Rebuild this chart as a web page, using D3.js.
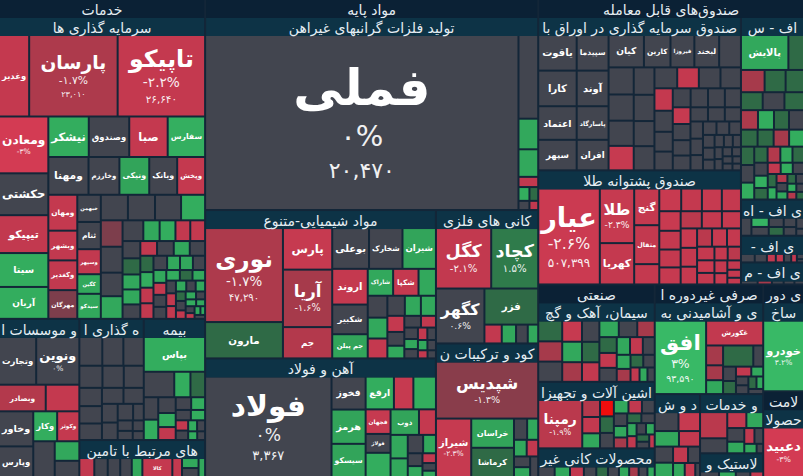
<!DOCTYPE html>
<html>
<head>
<meta charset="utf-8">
<script src="https://cdn.jsdelivr.net/npm/d3@7"></script>
<style>
  html, body { margin: 0; padding: 0; background: #132638; }
  svg { display: block; font-family: "DejaVu Sans", "Noto Sans", sans-serif; }
</style>
</head>
<body>
<div id="chart"></div>
<script>
// rows: [symbol, market value, change %, last price]
const investRows = [
  ["وغدیر", 2400, -2.2], ["پارسان", 7040, -1.7, "23,010"], ["تاپیکو", 6960, -2.2, "26,640"],
  ["ومعادن", 2736, -3], ["حکشتی", 2016, 0], ["تیپیکو", 1824, -2.1], ["سیتا", 1632, 2.5], ["آریان", 1536, 2.5],
  ["نیشکر", 1600, 2.5], ["وصندوق", 1600, 0], ["صبا", 1520, -2.2], ["سفارس", 1480, 2.6],
  ["ومهنا", 1482, 0], ["وخارزم", 1140, 0], ["ونیکی", 1100, 2.3], ["وبانک", 1030, 0], ["وپخش", 1030, -2.2],
  ["ومهان", 1015, -2.2], ["وبشهر", 841, -2.1], ["وکغدیر", 841, -2.1], ["مهرگان", 812, -1.2],
  ["خبهمن", 625, 0], ["ثنام", 625, 0], ["وسپهر", 575, -2.1], ["کگین", 450, 2.4], ["سیدکو", 575, 2.4],
  ["", 676, 0], ["", 676, 0], ["", 650, 0], ["", 600, 2.5], ["", 560, -1.2], ["", 550, 0], ["", 500, 0],
  ["", 480, 2.4], ["", 420, 0], ["", 330, 2.4], ["", 320, 2.5], ["", 300, -2.1], ["", 300, -2.2], ["", 300, 0],
  ["", 280, 1.2], ["", 260, 2.4], ["", 260, 2.4], ["", 250, 0], ["", 240, -2.1], ["", 240, 0], ["", 230, 2.4],
  ["", 220, 0], ["", 210, 1.2], ["", 200, 2.5], ["", 200, -2.1], ["", 200, -2.1], ["", 190, 0], ["", 180, 2.4],
  ["", 180, 2.4], ["", 170, 0], ["", 160, 2.4], ["", 150, -2.2], ["", 150, 0], ["", 150, 0], ["", 140, 2.5],
  ["", 130, 1.2], ["", 130, 2.4], ["", 120, 0], ["", 120, -2.1], ["", 120, -2.1], ["", 110, 2.4], ["", 100, 0],
  ["", 100, 2.4], ["", 90, 1.2], ["", 90, 0], ["", 80, -2.1], ["", 80, 2.4], ["", 70, 0], ["", 70, 2.5],
  ["", 60, 2.4], ["", 60, 0], ["", 50, -2.1], ["", 50, 2.4], ["", 40, 2.4], ["", 40, 0]
];
const bankRows = [
  ["وتجارت", 1740, 0], ["ونوین", 2020, 0], ["وبصادر", 1216, -1.8], ["", 874, -2.2], ["وخاور", 1175, 0],
  ["وپارس", 1025, 0], ["وکار", 700, 2.5], ["وکوثر", 650, -2.2], ["", 750, 0], ["", 470, 2.4], ["", 390, 0]
];
const estaniRows = [
  ["وسفارس", 675, 0], ["", 620, 0], ["", 600, 0], ["", 520, 0], ["", 480, 0], ["", 450, 0], ["", 420, 0],
  ["", 400, 0], ["", 380, 0], ["", 350, 0], ["", 330, 0], ["", 300, 0], ["", 280, 0], ["", 260, 0],
  ["", 180, 0], ["", 160, 0], ["", 140, 0], ["", 120, 0], ["", 100, 0]
];
const bimeRows = [
  ["بپاس", 2180, 2.5], ["", 790, 0], ["", 420, 2.5], ["", 380, 1.2], ["", 330, 0], ["", 300, 2.5],
  ["", 280, 0], ["", 250, 2.5], ["", 230, -2.1], ["", 200, 0], ["", 180, 2.5], ["", 160, 0], ["", 150, 2.5],
  ["", 130, -2.1], ["", 120, 0], ["", 100, 2.5], ["", 90, 0], ["", 80, 2.5], ["", 70, 0]
];
const taminRows = [
  ["", 480, -2.1], ["", 430, 0], ["", 400, 0], ["", 370, 0], ["", 340, 2.4], ["کالا", 960, -2.2],
  ["", 310, -2.1], ["", 280, 2.4], ["", 250, 0], ["", 210, 2.4]
];
const goldRows = [
  ["فملی", 54462, 0, "20,470"], ["", 1640, 0], ["", 600, 2.4], ["", 540, 2.4], ["", 200, -2.1],
  ["", 150, 2.5], ["", 120, 1.2], ["", 100, 0], ["", 80, -2.1]
];
const chemRows = [
  ["نوری", 7500, -1.7, "47,290"], ["مارون", 2900, 1.2], ["پارس", 2100, -2.3], ["آریا", 2900, -1.6],
  ["جم", 1580, -1.8], ["بوعلی", 1540, 0], ["شخارک", 1400, 0], ["شیران", 1400, 2.3], ["اروند", 1300, -2.2],
  ["شکبیر", 1080, 0], ["جم پیلن", 880, 2.3], ["شاراک", 700, 2.4], ["شکپا", 700, -2.2],
  ["", 480, 2.4], ["", 440, 0], ["", 420, 2.4], ["", 400, -2.2], ["", 360, 0], ["", 330, 2.4], ["", 310, 2.4],
  ["", 280, -2.2], ["", 240, 0], ["", 220, 2.4], ["", 200, 0], ["", 180, -2.1], ["", 160, 0], ["", 140, 2.4],
  ["", 130, 0], ["", 120, -2.1], ["", 110, 0], ["", 100, 2.4], ["", 90, 0], ["", 80, -2.1], ["", 70, 0]
];
const steelRows = [
  ["فولاد", 13500, 0, "3,367"], ["فخوز", 1200, 0], ["هرمز", 1240, 2.3], ["سیسکو", 1200, 2.3],
  ["ارفع", 990, 2.5], ["", 680, -2.3], ["", 790, 2.5], ["فجهان", 650, -2.3], ["فولاژ", 500, 0],
  ["فسبزوار", 640, 2.5], ["ذوب", 770, 2.3], ["", 460, -2.2], ["", 430, 2.4], ["", 340, 2.4], ["", 300, 0],
  ["", 250, 2.4], ["", 200, 0], ["", 170, 2.4], ["", 140, -2.1], ["", 110, 0], ["", 90, 2.4]
];
const kaniRows = [
  ["کگل", 3480, -2.1], ["کچاد", 2960, 1.5], ["کگهر", 2770, 0.6], ["فزر", 2020, 1.2],
  ["", 340, -2.1], ["", 280, 2.4], ["", 230, 0], ["", 205, 2.4]
];
const koodRows = [
  ["شپدیس", 6080, -1.3, "100,100"], ["شیراز", 2145, -2.3], ["خراسان", 1300, 2.3], ["کرماشا", 1300, 1.2],
  ["", 290, 0], ["", 245, 2.4], ["", 220, 2.4], ["", 200, -2.1], ["", 180, 0], ["", 165, 2.4], ["", 173, 0]
];
const fixedRows = [
  ["یاقوت", 1435, 0], ["کارا", 1435, 0], ["اعتماد", 1353, 0], ["سپهر", 1230, 0],
  ["سپیدما", 1190, 0], ["آوند", 1190, 0], ["پاسارگاد", 1122, 0], ["افران", 1020, 0],
  ["کیان", 1200, 0], ["کارین", 900, 0], ["فیروزا", 810, 0], ["لبخند", 840, 0],
  ["", 740, 0], ["", 715, 0], ["", 690, 0], ["", 665, 0], ["", 645, -2.3], ["", 595, 0], ["", 570, 0],
  ["", 545, 0], ["", 525, 0], ["", 500, 0], ["", 475, -2.2], ["", 475, 0], ["", 450, 0], ["", 430, -2.2],
  ["", 405, 0], ["", 380, 0], ["", 360, 0], ["", 355, 0], ["", 345, 0], ["", 335, 0], ["", 320, 0],
  ["", 310, -2.3], ["", 300, 0], ["", 285, 0], ["", 275, 0], ["", 260, 0], ["", 250, 0], ["", 240, 0],
  ["", 225, 0], ["", 215, 0], ["", 200, 0], ["", 190, 0], ["", 180, 0], ["", 165, 0], ["", 155, 0],
  ["", 145, 0], ["", 130, 0], ["", 120, 0], ["", 115, 0], ["", 105, 0], ["", 100, 0], ["", 95, 0],
  ["", 90, 0], ["", 85, 0], ["", 75, 0], ["", 70, 0], ["", 65, 0], ["", 60, 0]
];
const goldFundRows = [
  ["عیار", 6500, -2.6, "507,399"], ["طلا", 2067, -2.3], ["کهربا", 1560, -2.2], ["گنج", 1015, -2.2],
  ["مثقال", 1073, -2.1], ["", 560, -2.2], ["", 550, -2.4], ["", 520, -2.2], ["", 500, -2.3], ["", 480, -2.2],
  ["", 460, -2.4], ["", 440, -2.2], ["", 420, -2.2], ["", 400, -2.3], ["", 400, -1.9], ["", 380, -2.2],
  ["", 360, -2.2], ["", 350, -2.4], ["", 340, -2.2], ["", 320, -2.2], ["", 300, -1.9], ["", 300, -2.3],
  ["", 280, -2.2], ["", 260, -2.2], ["", 240, -2.4], ["", 220, -2.2], ["", 200, -2.2], ["", 200, -1.9],
  ["", 180, -2.2], ["", 160, -2.3], ["", 140, -2.2], ["", 120, -2.2], ["", 100, -2.2]
];
const equityRows = [
  ["پالایش", 1700, 2.4], ["", 560, 1.2], ["", 540, -1.6], ["", 480, 1.2], ["", 420, 1.2], ["", 400, 1.2],
  ["", 400, 0], ["", 360, 1.2], ["", 340, -1.7], ["", 320, 2.5], ["", 300, 1.2], ["", 300, 0], ["", 290, 1.2],
  ["", 280, 1.2], ["", 270, -1.6], ["", 260, 2.5], ["", 250, 1.2], ["", 240, 0], ["", 230, 2.5], ["", 220, 1.2],
  ["", 210, -1.8], ["", 200, 2.4], ["", 190, 1.2], ["", 180, 0], ["", 170, 2.6], ["", 160, 1.2], ["", 150, -2.1],
  ["", 140, 2.5], ["", 130, 0], ["", 120, 1.2], ["", 110, 2.5], ["", 100, -1.8], ["", 95, 0], ["", 90, 2.4],
  ["", 85, 1.2], ["", 80, 0], ["", 75, 2.5], ["", 70, -1.8], ["", 65, 0], ["", 60, 1.2]
];
const leverRows = [
  ["", 350, 0], ["", 300, 2.8], ["", 280, 0], ["", 260, 0], ["", 240, 1.2], ["", 220, 0], ["", 200, 0],
  ["", 160, 0], ["", 100, 0]
];
const sectorEtfRows = [
  ["", 340, 0], ["", 300, 0], ["", 220, -2.1], ["", 200, -2.1], ["", 180, 0], ["", 140, -2.1], ["", 110, 0], ["", 66, 0]
];
const mixedEtfRows = [["", 340, 0], ["", 290, -1.6], ["", 240, 0], ["", 220, 0], ["", 195, 0]];
const simanRows = [
  ["", 620, 1.2], ["", 600, -1.6], ["", 600, 0], ["", 520, -2.3], ["", 500, 2.4], ["", 480, -1.6], ["", 460, 0],
  ["", 440, 1.2], ["", 420, -2.1], ["", 400, 2.4], ["", 380, 0], ["", 360, -1.6], ["", 340, 1.2], ["", 320, -2.2],
  ["", 300, 0], ["", 290, 2.4], ["", 280, -2.1], ["", 260, 0], ["", 240, 2.4], ["", 220, -1.6], ["", 200, 1.2],
  ["", 180, 0], ["", 160, -2.1], ["", 140, 2.4], ["", 129, 0]
];
const machineRows = [
  ["رمپنا", 2800, -1.9], ["", 400, -1.8], ["", 380, -2.1], ["", 350, 2.4], ["", 300, -5], ["", 300, 1.2],
  ["", 280, 0], ["", 260, 2.4], ["", 240, -2.1], ["", 228, 0], ["", 220, 0], ["", 200, 2.4], ["", 190, -1.6],
  ["", 180, 1.2], ["", 170, 0], ["", 160, 2.4], ["", 150, -2.1], ["", 140, 0], ["", 130, 2.4], ["", 120, 1.2],
  ["", 110, 0], ["", 100, -2.1]
];
const nonMetalRows = [
  ["", 450, 0], ["", 420, 2.4], ["", 380, -2.1], ["", 340, 0], ["", 320, 1.2], ["", 300, 0], ["", 280, 2.4],
  ["", 260, -1.6], ["", 240, 0], ["", 200, 2.4]
];
const foodRows = [
  ["افق", 4500, 3, "93,590"], ["غکورش", 1700, -2.1], ["", 400, -1.6], ["", 300, -1.6], ["", 280, 2.4],
  ["", 760, 1.2], ["", 250, 0], ["", 220, 0], ["", 200, 1.2], ["", 180, -2.1], ["", 140, 2.4], ["", 130, 0],
  ["", 130, 0], ["", 120, 1.2], ["", 100, 2.4], ["", 90, 0]
];
const sugarRows = [
  ["", 550, 0], ["", 500, -2.3], ["", 460, 2.4], ["", 400, -2.1], ["", 360, 0], ["", 320, 2.4], ["", 300, -2.1],
  ["", 240, 0], ["", 200, 2.4], ["", 180, -2.1], ["", 82, 0]
];
const farmRows = [
  ["", 980, -1.9], ["", 560, 0], ["", 420, -2.1], ["", 370, 2.4], ["", 320, 0], ["", 270, 2.4], ["", 220, -2.1],
  ["", 190, 0], ["", 160, 2.4], ["", 86, 0]
];
const rubberRows = [["", 430, 0], ["", 380, 2.4], ["", 330, 0], ["", 292, -2.1]];
const autoRows = [["خودرو", 3775, 3.2]];
const pharmaRows = [["دعبید", 3029, -3]];

const W = 803, H = 476, headerH = 18;

const industry = (name, rows) => ({
  name, header: "industry",
  children: rows.map(([n, v, c, p]) => ({ name: n, value: v, change: c, price: p }))
});
const sector = (name, tile, children) => ({ name, header: "sector", tile, children });
const group = (tile, children) => ({ tile, children });

const data = group("dice", [
  group("slice", [
    sector("خدمات", null, [industry("سرمایه گذاری ها", investRows)]),
    group("dice", [
      industry("بانک ها و موسسات اعتباری", bankRows),
      group("slice", [
        group("dice", [
          industry("سرمایه گذاری استانی", estaniRows),
          industry("بیمه", bimeRows)
        ]),
        industry("فعالیت های مرتبط با تامین سرمایه", taminRows)
      ])
    ])
  ]),
  sector("مواد پایه", "slice", [
    industry("تولید فلزات گرانبهای غیراهن", goldRows),
    group("dice", [
      group("slice", [industry("مواد شیمیایی-متنوع", chemRows), industry("آهن و فولاد", steelRows)]),
      group("slice", [industry("کانی های فلزی", kaniRows), industry("تولید کود و ترکیبات نیتروژن", koodRows)])
    ])
  ]),
  group("slice", [
    sector("صندوق\u200cهای قابل معامله", "dice", [
      group("slice", [
        industry("ای تی اف - صندوق سرمایه گذاری در اوراق با درآمد ثابت", fixedRows),
        industry("صندوق پشتوانه طلا", goldFundRows)
      ]),
      group("slice", [
        industry("ای تی اف - سهامی", equityRows),
        industry("ای تی اف - اهرمی", leverRows),
        industry("ای تی اف - بخشی", sectorEtfRows),
        industry("ای تی اف - مختلط", mixedEtfRows)
      ])
    ]),
    group("dice", [
      sector("صنعتی", "slice", [
        industry("سیمان، آهک و گچ", simanRows),
        industry("ماشین آلات و تجهیزات", machineRows),
        industry("سایر محصولات کانی غیرفلزی", nonMetalRows)
      ]),
      sector("مصرفی غیردوره ای", "slice", [
        industry("محصولات غذایی و آشامیدنی به جز قند و شکر", foodRows),
        group("dice", [
          industry("قند و شکر", sugarRows),
          group("slice", [
            industry("زراعت و خدمات وابسته", farmRows),
            industry("محصولات لاستیک و پلاستیک", rubberRows)
          ])
        ])
      ]),
      group("slice", [
        sector("مصرفی دوره ای", null, [industry("خودرو و ساخت قطعات", autoRows)]),
        sector("سلامت", null, [industry("مواد و محصولات دارویی", pharmaRows)])
      ])
    ])
  ])
]);

const squarify = d3.treemapSquarify.ratio(1);
function tile(node, x0, y0, x1, y1) {
  const t = node.data.tile;
  const fn = t === "dice" ? d3.treemapDice : t === "slice" ? d3.treemapSlice : squarify;
  fn(node, x0, y0, x1, y1);
}

const root = d3.treemap()
  .size([W, H])
  .tile(tile)
  .paddingInner(2)
  .paddingTop((d) => (d.data.header ? headerH : 0))
  .round(false)(d3.hierarchy(data).sum((d) => (d.children ? 0 : d.value)));

const color = d3.scaleLinear()
  .domain([-5, -3, -2, -1.5, -0.7, 0.7, 1.2, 1.8, 2.5, 3])
  .range(["#f00d0d", "#d33b53", "#c0394e", "#a03a4a", "#42454f", "#42454f", "#2f6a46", "#2f8c50", "#33ad5e", "#38b966"])
  .clamp(true);

const faDigits = "۰۱۲۳۴۵۶۷۸۹";
const fa = (s) => String(s).replace(/\d/g, (d) => faDigits[d]);
const pct = (c) => {
  const a = Math.abs(c);
  return fa((c < 0 ? "-" : "") + (Number.isInteger(a) ? a : a.toFixed(1)) + "%");
};

const svg = d3.select("#chart").append("svg").attr("width", W).attr("height", H);
svg.append("rect").attr("width", W).attr("height", H).attr("fill", "#132638");

const leaves = root.leaves();
svg.append("g")
  .selectAll("rect")
  .data(leaves)
  .join("rect")
  .attr("x", (d) => d.x0)
  .attr("y", (d) => d.y0)
  .attr("width", (d) => Math.max(0, d.x1 - d.x0))
  .attr("height", (d) => Math.max(0, d.y1 - d.y0))
  .attr("fill", (d) => color(d.data.change));

// shrink a text until it fits the given width
function fitSize(sel, size, maxW) {
  sel.attr("font-size", size);
  const len = sel.node().getComputedTextLength();
  if (len > maxW) {
    size = size * maxW / len;
    sel.attr("font-size", size);
  }
  return size;
}

const labels = svg.append("g").attr("fill", "#ffffff").attr("text-anchor", "middle");
leaves.filter((d) => d.data.name).forEach((d) => {
  const w = d.x1 - d.x0;
  const h = d.y1 - d.y0;
  const cx = (d.x0 + d.x1) / 2;
  const probe = labels.append("text").attr("font-weight", "bold").text(d.data.name);
  const room = w < 60 ? w - 4 : w * 0.76;
  const fs = fitSize(probe, Math.min(h * 0.3, 50), room);
  probe.remove();
  if (fs < 5) return;
  const lines = [{ text: d.data.name, size: fs, lh: fs * 1.15, weight: "bold" }];
  if ((h >= 45 && fs >= 9.5) || (fs >= 13 && h >= fs * 2)) {
    const s = Math.max(fs * 0.58, 7.5);
    lines.push({ text: pct(d.data.change), size: s, lh: s * 1.35, weight: "normal" });
  }
  if (d.data.price && h >= 60) {
    const s = Math.max(fs * 0.44, 7);
    lines.push({ text: fa(d.data.price), size: s, lh: s * 1.35, weight: "normal" });
  }
  const total = d3.sum(lines, (l) => l.lh);
  let y = (d.y0 + d.y1) / 2 - total / 2;
  lines.forEach((l) => {
    const t = labels.append("text")
      .attr("x", cx)
      .attr("y", y + l.lh / 2)
      .attr("dominant-baseline", "central")
      .attr("font-weight", l.weight)
      .attr("opacity", l.weight === "bold" ? 1 : 0.92)
      .text(l.text);
    fitSize(t, l.size, w - 4);
    y += l.lh;
  });
});

// group headers: text centred, long names cut down to the visible middle part
function fitHeader(sel, full, maxW) {
  let s = full;
  let fromStart = true;
  sel.text(s);
  while (s.length > 1 && sel.node().getComputedTextLength() > maxW) {
    s = fromStart ? s.slice(1) : s.slice(0, -1);
    fromStart = !fromStart;
    sel.text(s.trim());
  }
}

const headers = root.descendants().filter((d) => d.data.header);
const headerLayer = svg.append("g");
headers.forEach((d) => {
  const w = d.x1 - d.x0;
  const isSector = d.data.header === "sector";
  headerLayer.append("rect")
    .attr("x", d.x0).attr("y", d.y0).attr("width", w).attr("height", headerH)
    .attr("fill", isSector ? "#0b2135" : "#0d3346");
  const t = headerLayer.append("text")
    .attr("x", (d.x0 + d.x1) / 2)
    .attr("y", d.y0 + headerH / 2 + 1)
    .attr("text-anchor", "middle")
    .attr("dominant-baseline", "central")
    .attr("direction", "rtl")
    .attr("font-size", 14)
    .attr("fill", "#e6eef3");
  fitHeader(t, d.data.name, w - 2);
});
</script>
</body>
</html>
